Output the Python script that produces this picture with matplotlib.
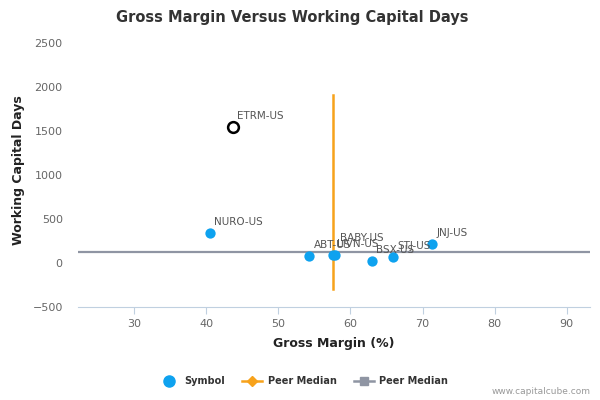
import numpy as np
import matplotlib; matplotlib.use("Agg")
import matplotlib.pyplot as plt
from matplotlib.lines import Line2D

# data
symbols=['NURO-US','ABT-US','BABY-US','LIVN-US','BSX-US','STJ-US','JNJ-US']
gross_margin=[40.5,54.3,57.8,57.6,63.0,65.9,71.3]
wc_days=[341,80,95,90,23,68,216]
# label offsets in points (style only)
lab_off=[(3,6),(3,6),(4,10),(3,6),(3,6),(3,6),(3,6)]
focus_sym='ETRM-US'; focus_gm=43.7; focus_wc=1545
peer_gm=57.6; peer_wc_span=[-295,1910]
peer_wc=125

BLUE='#0ea2ef'; ORANGE='#f7a21b'; GREY='#8f95a3'; TXT='#666666'

plt.rcParams.update({'font.family':'DejaVu Sans'})
fig=plt.figure(figsize=(6,4),dpi=100)
ax=fig.add_axes([0.13,0.2325,0.853,0.6825])
ax.set_xlim(22.2,93.2); ax.set_ylim(-500,2600)

ax.axhline(peer_wc,color=GREY,lw=1.6,zorder=2)
ax.plot([peer_gm,peer_gm],peer_wc_span,color=ORANGE,lw=1.8,zorder=2)
ax.scatter(gross_margin,wc_days,s=55,color=BLUE,zorder=3,linewidths=0)
ax.scatter([focus_gm],[focus_wc],s=60,facecolor='white',edgecolor='black',linewidths=1.8,zorder=4)
for s,x,y,o in zip(symbols,gross_margin,wc_days,lab_off):
    ax.annotate(s,(x,y),xytext=o,textcoords='offset points',fontsize=7.5,color='#555555',zorder=5)
ax.annotate(focus_sym,(focus_gm,focus_wc),xytext=(3,6),textcoords='offset points',fontsize=7.5,color='#555555',zorder=5)

for sp in ['top','right','left']: ax.spines[sp].set_visible(False)
ax.spines['bottom'].set_color('#c0d0e0')
ax.spines['bottom'].set_position(('data',-500))
ax.set_xticks(np.arange(30,91,10)); ax.set_yticks(np.arange(-500,2501,500))
ax.tick_params(axis='x',colors='#c0d0e0',labelcolor=TXT,labelsize=8,length=5,direction='out')
ax.tick_params(axis='y',length=0,labelcolor=TXT,labelsize=8,pad=11)
ax.set_xlabel('Gross Margin (%)',fontsize=9,fontweight='bold',color='#222222',labelpad=6)
ax.set_ylabel('Working Capital Days',fontsize=9,fontweight='bold',color='#222222',labelpad=5)
fig.suptitle('Gross Margin Versus Working Capital Days',x=0.487,y=0.975,fontsize=10.5,fontweight='bold',color='#333333')

handles=[Line2D([],[],ls='none',marker='o',color=BLUE,markersize=8),
         Line2D([],[],color=ORANGE,lw=1.8,marker='D',markersize=5),
         Line2D([],[],color=GREY,lw=1.8,marker='s',markersize=6)]
fig.legend(handles,['Symbol','Peer Median','Peer Median'],loc='center',bbox_to_anchor=(0.506,0.047),ncol=3,
           frameon=False,prop={'weight':'bold','size':7},labelcolor='#333333',handlelength=2,columnspacing=1.8,handletextpad=0.6)
fig.text(0.985,0.02,'www.capitalcube.com',ha='right',va='center',fontsize=6.5,color='#999999')
fig.savefig('out.png',dpi=100)
